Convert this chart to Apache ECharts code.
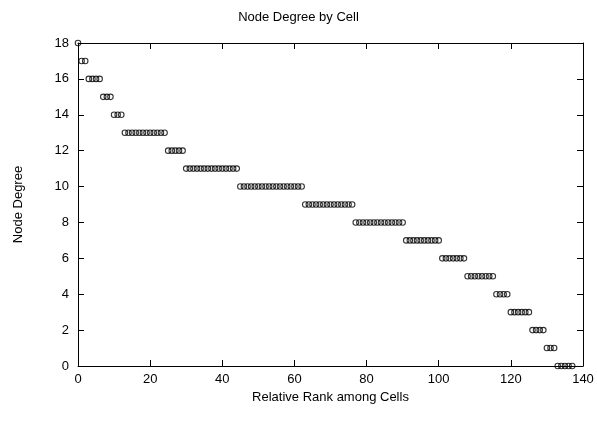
<!DOCTYPE html>
<html><head><meta charset="utf-8">
<script src="https://cdn.jsdelivr.net/npm/echarts@6/dist/echarts.min.js"></script>
<style>html,body{margin:0;padding:0;background:#fff}#c{width:597px;height:422px}</style>
</head><body><div id="c"></div>
<script>
const title = "Node Degree by Cell";
const xName = "Relative Rank among Cells";
const yName = "Node Degree";
// node degree for each cell, ordered by rank 0..137
const degrees = [
 18,
 17,17,
 16,16,16,16,
 15,15,15,
 14,14,14,
 13,13,13,13,13,13,13,13,13,13,13,13,
 12,12,12,12,12,
 11,11,11,11,11,11,11,11,11,11,11,11,11,11,11,
 10,10,10,10,10,10,10,10,10,10,10,10,10,10,10,10,10,10,
 9,9,9,9,9,9,9,9,9,9,9,9,9,9,
 8,8,8,8,8,8,8,8,8,8,8,8,8,8,
 7,7,7,7,7,7,7,7,7,7,
 6,6,6,6,6,6,6,
 5,5,5,5,5,5,5,5,
 4,4,4,4,
 3,3,3,3,3,3,
 2,2,2,2,
 1,1,1,
 0,0,0,0,0
];
const points = degrees.map((d, i) => [i, d]);
const font = 'Liberation Sans, Arial, Helvetica, sans-serif';
const chart = echarts.init(document.getElementById('c'));
const axisCommon = {
  axisLine: {show: true, onZero: false, lineStyle: {color: '#000', width: 1}},
  axisTick: {show: true, inside: true, length: 6, lineStyle: {color: '#000'}},
  splitLine: {show: false}
};
chart.setOption({
  animation: false,
  backgroundColor: '#fff',
  title: {text: title, left: 'center', top: 6, textStyle: {fontFamily: font, fontSize: 13, fontWeight: 'normal', color: '#000'}},
  grid: {left: 78, right: 14, top: 43, bottom: 56, containLabel: false},
  xAxis: [
    Object.assign({type: 'value', min: 0, max: 140, interval: 20, position: 'bottom',
      name: xName, nameLocation: 'middle', nameGap: 25,
      nameTextStyle: {fontFamily: font, fontSize: 13, color: '#000'},
      axisLabel: {fontFamily: font, fontSize: 13, color: '#000', margin: 7}}, axisCommon),
    Object.assign({type: 'value', min: 0, max: 140, interval: 20, position: 'top', axisLabel: {show: false}}, axisCommon)
  ],
  yAxis: [
    Object.assign({type: 'value', min: 0, max: 18, interval: 2, position: 'left',
      name: yName, nameLocation: 'middle', nameGap: 53, nameRotate: 90,
      nameTextStyle: {fontFamily: font, fontSize: 13, color: '#000'},
      axisLabel: {fontFamily: font, fontSize: 13, color: '#000', margin: 9}}, axisCommon),
    Object.assign({type: 'value', min: 0, max: 18, interval: 2, position: 'right', axisLabel: {show: false}}, axisCommon)
  ],
  series: [{
    type: 'scatter', data: points, symbol: 'circle', symbolSize: 5.5,
    itemStyle: {color: 'rgba(255,255,255,0)', borderColor: '#000', borderWidth: 1.1},
    clip: false
  }]
});
</script></body></html>
